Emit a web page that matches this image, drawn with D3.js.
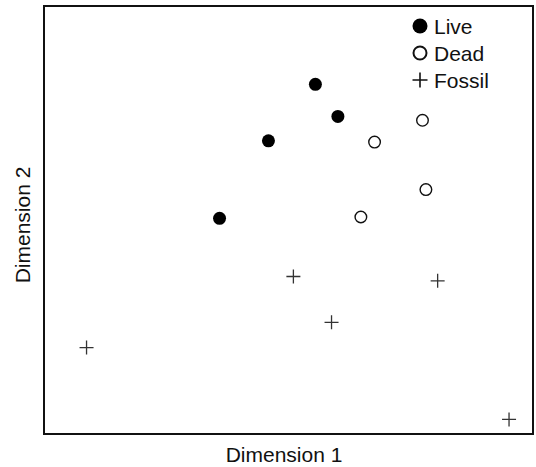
<!DOCTYPE html>
<html>
<head>
<meta charset="utf-8">
<script src="https://cdn.jsdelivr.net/npm/d3@7"></script>
<style>
  body { margin: 0; background: #fff; }
  text { font-family: "Liberation Sans", Arial, sans-serif; fill: #111; }
</style>
</head>
<body>
<div id="chart"></div>
<script>
// Data (arbitrary ordination units, 0-100)
const liveX = [35.9, 45.9, 55.5, 60.1];
const liveY = [50.4, 68.5, 81.7, 74.2];
const deadX = [67.6, 77.4, 78.1, 64.8];
const deadY = [68.2, 73.3, 57.1, 50.7];
const fossilX = [8.7, 51.0, 58.8, 80.5, 95.1];
const fossilY = [20.2, 36.8, 26.1, 35.8, 3.4];
const legendLabels = ["Live", "Dead", "Fossil"];

const width = 536, height = 467;
const margin = {top: 6, right: 3, bottom: 33, left: 44};

const svg = d3.select("#chart").append("svg")
    .attr("width", width)
    .attr("height", height);

const x = d3.scaleLinear().domain([0, 100]).range([margin.left, width - margin.right]);
const y = d3.scaleLinear().domain([0, 100]).range([height - margin.bottom, margin.top]);

// frame
svg.append("rect")
    .attr("x", x(0)).attr("y", y(100))
    .attr("width", x(100) - x(0)).attr("height", y(0) - y(100))
    .attr("fill", "none").attr("stroke", "#111").attr("stroke-width", 2);

const zip = (xs, ys) => xs.map((v, i) => [v, ys[i]]);
const plus = s => `M${-s},0H${s}M0,${-s}V${s}`;

// live: filled
svg.selectAll(".live").data(zip(liveX, liveY)).enter().append("circle")
    .attr("class", "live")
    .attr("cx", d => x(d[0])).attr("cy", d => y(d[1]))
    .attr("r", 6.5).attr("fill", "#000");

// dead: open
svg.selectAll(".dead").data(zip(deadX, deadY)).enter().append("circle")
    .attr("class", "dead")
    .attr("cx", d => x(d[0])).attr("cy", d => y(d[1]))
    .attr("r", 5.8).attr("fill", "#fff").attr("stroke", "#111").attr("stroke-width", 1.4);

// fossil: crosses
svg.selectAll(".fossil").data(zip(fossilX, fossilY)).enter().append("path")
    .attr("class", "fossil")
    .attr("transform", d => `translate(${x(d[0])},${y(d[1])})`)
    .attr("d", plus(7))
    .attr("fill", "none").attr("stroke", "#333").attr("stroke-width", 1.3);

// legend
const legend = svg.append("g").attr("transform", "translate(420,26)");
legendLabels.forEach((lab, i) => {
  const g = legend.append("g").attr("transform", `translate(0,${i * 27})`);
  if (i === 0) g.append("circle").attr("r", 7.5).attr("fill", "#000");
  if (i === 1) g.append("circle").attr("r", 6.5).attr("fill", "#fff")
      .attr("stroke", "#111").attr("stroke-width", 2);
  if (i === 2) g.append("path").attr("d", plus(7.5)).attr("stroke", "#111").attr("stroke-width", 1.6);
  g.append("text").attr("x", 14).attr("y", 7.5)
      .attr("font-size", 21).text(lab);
});

// axis titles
svg.append("text")
    .attr("x", 284).attr("y", 462)
    .attr("text-anchor", "middle").attr("font-size", 21)
    .text("Dimension 1");

svg.append("text")
    .attr("transform", "translate(30,225) rotate(-90)")
    .attr("text-anchor", "middle").attr("font-size", 21)
    .text("Dimension 2");
</script>
</body>
</html>
